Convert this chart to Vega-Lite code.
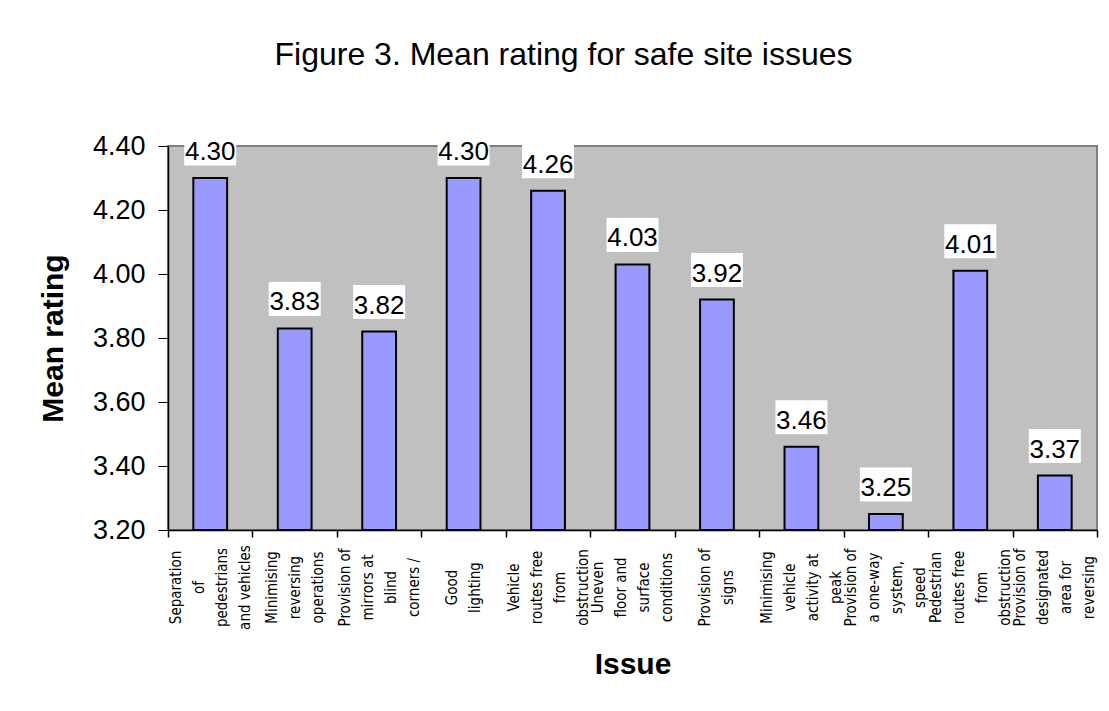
{
  "$schema": "https://vega.github.io/schema/vega-lite/v6.json",
  "width": 929,
  "height": 384,
  "autosize": {"type": "none"},
  "padding": {"left": 168, "top": 146, "right": 12, "bottom": 181},
  "background": "white",
  "title": {
    "text": "Figure 3. Mean rating for safe site issues",
    "font": "Liberation Sans",
    "fontSize": 32,
    "fontWeight": "normal",
    "color": "black",
    "anchor": "middle",
    "baseline": "alphabetic",
    "dx": -69,
    "offset": 34
  },
  "data": {
    "values": [
      {"issue": "Separation|of|pedestrians|and vehicles", "rating": 4.30},
      {"issue": "Minimising|reversing|operations", "rating": 3.83},
      {"issue": "Provision of|mirrors at|blind|corners /", "rating": 3.82},
      {"issue": "Good|lighting", "rating": 4.30},
      {"issue": "Vehicle|routes free|from|obstruction", "rating": 4.26},
      {"issue": "Uneven|floor and|surface|conditions", "rating": 4.03},
      {"issue": "Provision of|signs", "rating": 3.92},
      {"issue": "Minimising|vehicle|activity at|peak", "rating": 3.46},
      {"issue": "Provision of|a one-way|system,|speed", "rating": 3.25},
      {"issue": "Pedestrian|routes free|from|obstruction", "rating": 4.01},
      {"issue": "Provision of|designated|area for|reversing", "rating": 3.37}
    ]
  },
  "encoding": {
    "y": {
      "field": "rating",
      "type": "quantitative",
      "scale": {"domain": [3.2, 4.4], "zero": false, "nice": false},
      "axis": {
        "title": "Mean rating",
        "titleFont": "Liberation Sans",
        "titleFontSize": 30,
        "titleFontWeight": "bold",
        "titleColor": "black",
        "titlePadding": 24,
        "values": [3.2, 3.4, 3.6, 3.8, 4.0, 4.2, 4.4],
        "format": ".2f",
        "labelFont": "Liberation Sans",
        "labelFontSize": 27,
        "labelColor": "black",
        "labelPadding": 13,
        "tickSize": 10,
        "tickColor": "black",
        "domainColor": "black",
        "domainWidth": 1.5,
        "grid": false
      }
    }
  },
  "layer": [
    {
      "mark": {"type": "bar", "width": {"band": 0.4}, "fill": "#9999FF", "stroke": "black", "strokeWidth": 2},
      "encoding": {
        "x": {
          "field": "issue",
          "type": "nominal",
          "sort": null,
          "scale": {"paddingInner": 0, "paddingOuter": 0},
          "axis": {
            "orient": "bottom",
            "title": "Issue",
            "titleFont": "Liberation Sans",
            "titleFontSize": 30,
            "titleFontWeight": "bold",
            "titleColor": "black",
            "titlePadding": 20,
            "labelExpr": "split(datum.value, '|')",
            "labelOffset": {"expr": "-(length(split(datum.value, '|')) - 1) * 11.5"},
            "labelAngle": 270,
            "labelAlign": "center",
            "labelBaseline": "middle",
            "labelFont": "DejaVu Sans Condensed, Roboto Condensed, DejaVu Sans, sans-serif",
            "labelFontSize": 15,
            "labelLineHeight": 23,
            "labelColor": "black",
            "labelPadding": 57,
            "labelOverlap": false,
            "labelBound": false,
            "labelFlush": false,
            "ticks": false,
            "tickSize": 0,
            "domainColor": "black",
            "domainWidth": 1.5,
            "grid": false
          }
        },
        "y2": {"datum": 3.2}
      }
    },
    {
      "mark": {
        "type": "point",
        "shape": "M-1,-0.654L1,-0.654L1,0.654L-1,0.654Z",
        "size": 2704,
        "filled": true,
        "fill": "white",
        "opacity": 1,
        "strokeWidth": 0,
        "yOffset": -29.5
      },
      "encoding": {
        "x": {"field": "issue", "type": "nominal", "sort": null, "axis": null}
      }
    },
    {
      "mark": {
        "type": "text",
        "font": "Liberation Sans",
        "fontSize": 26,
        "color": "black",
        "baseline": "alphabetic",
        "align": "center",
        "dy": -18
      },
      "encoding": {
        "x": {"field": "issue", "type": "nominal", "sort": null, "axis": null},
        "text": {"field": "rating", "type": "quantitative", "format": ".2f"}
      }
    },
    {
      "mark": {"type": "point", "opacity": 0},
      "encoding": {
        "x": {
          "field": "issue",
          "type": "nominal",
          "sort": null,
          "axis": {
            "orient": "bottom",
            "title": null,
            "labels": false,
            "domain": false,
            "grid": false,
            "ticks": true,
            "tickBand": "extent",
            "tickSize": 7,
            "tickColor": "black",
            "tickWidth": 1.5
          }
        }
      }
    }
  ],
  "resolve": {"axis": {"x": "independent"}},
  "config": {
    "view": {"fill": "#C0C0C0", "stroke": "#808080", "strokeWidth": 2}
  }
}
